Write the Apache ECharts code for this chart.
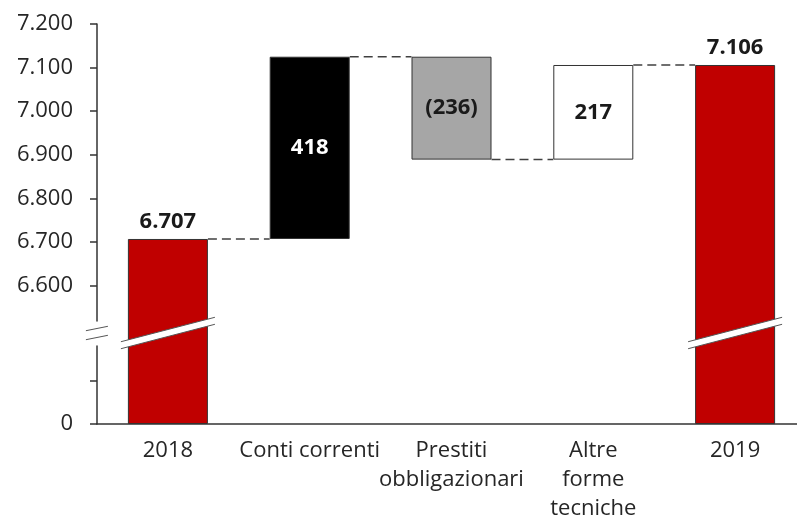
<!DOCTYPE html>
<html>
<head>
<meta charset="utf-8">
<script src="https://cdn.jsdelivr.net/npm/echarts@6/dist/echarts.min.js"></script>
<style>
  html, body { margin: 0; padding: 0; background: #fff; }
  #chart { width: 797px; height: 518px; }
</style>
</head>
<body>
<div id="chart"></div>
<script>
// dati (milioni) - ponte 2018 -> 2019
var categories = ['2018', 'Conti correnti', 'Prestiti\nobbligazionari', 'Altre\nforme\ntecniche', '2019'];
var startValue = 6707;
var changes = [418, -236, 217];
var endValue = 7106;
var barColors = ['#C00000', '#000000', '#A6A6A6', '#FFFFFF', '#C00000'];
var yTickValues = [0, 100, 6600, 6700, 6800, 6900, 7000, 7100, 7200];
var yLabelValues = [0, 6600, 6700, 6800, 6900, 7000, 7100, 7200];
var breakStart = 180, breakEnd = 6520;

function fmt(v) {
  var a = Math.abs(v);
  var s = a >= 1000 ? Math.floor(a / 1000) + '.' + String(a % 1000).padStart(3, '0') : String(a);
  return v < 0 ? '(' + s + ')' : s;
}

// costruzione waterfall
var base = [0], heights = [startValue], levels = [startValue];
var cur = startValue;
changes.forEach(function (c) {
  var next = cur + c;
  base.push(Math.min(cur, next));
  heights.push(Math.abs(c));
  cur = next;
  levels.push(cur);
});
base.push(0);
heights.push(endValue);

var visData = heights.map(function (h, i) {
  var isTotal = (i === 0 || i === heights.length - 1);
  var labelVal = isTotal ? h : changes[i - 1];
  return {
    value: h,
    itemStyle: { color: barColors[i], borderColor: '#333', borderWidth: 1 },
    label: {
      show: true,
      position: isTotal ? 'top' : 'inside',
      distance: 6,
      color: i === 1 ? '#fff' : '#1a1a1a',
      fontWeight: 'bold',
      fontSize: 22,
      fontFamily: 'Open Sans',
      formatter: fmt(labelVal)
    }
  };
});

// connettori tratteggiati
var connData = levels.map(function (v, i) { return [i, v]; });

var chart = echarts.init(document.getElementById('chart'));
var BAR_W = 80;

var option = {
  animation: false,
  grid: { left: 97, right: -9, top: 24, bottom: 94, outerBoundsMode: 'none', containLabel: false },
  xAxis: {
    type: 'category',
    data: categories,
    axisLine: { lineStyle: { color: '#333', width: 1.5 } },
    axisTick: { show: false },
    axisLabel: {
      color: '#262626', fontSize: 22, fontFamily: 'Open Sans',
      lineHeight: 29, margin: 12, interval: 0
    }
  },
  yAxis: {
    type: 'value',
    min: 0,
    max: 7200,
    breaks: [{ start: breakStart, end: breakEnd, gap: '6.25%' }],
    breakArea: { show: false },
    axisLine: { show: true, lineStyle: { color: '#333', width: 1.5 } },
    axisTick: { show: true, length: 7, customValues: yTickValues, lineStyle: { color: '#333', width: 1.5 } },
    splitLine: { show: false },
    axisLabel: {
      customValues: yLabelValues,
      color: '#262626', fontSize: 22, fontFamily: 'Open Sans', margin: 24,
      formatter: function (v) { return fmt(v); }
    }
  },
  series: [
    {
      type: 'bar',
      stack: 'wf',
      barWidth: BAR_W,
      silent: true,
      itemStyle: { color: 'transparent' },
      data: base
    },
    {
      type: 'bar',
      stack: 'wf',
      barWidth: BAR_W,
      data: visData
    },
    {
      type: 'custom',
      data: connData,
      z: 1,
      renderItem: function (params, api) {
        var i = api.value(0), v = api.value(1);
        var p1 = api.coord([i, v]);
        var p2 = api.coord([i + 1, v]);
        return {
          type: 'line',
          shape: { x1: p1[0] + BAR_W / 2, y1: p1[1], x2: p2[0] - BAR_W / 2, y2: p2[1] },
          style: { stroke: '#404040', lineWidth: 1.5, lineDash: [9, 5] }
        };
      }
    }
  ]
};
chart.setOption(option);

// segni di interruzione asse
function breakMarks() {
  var yLo = chart.convertToPixel({ yAxisIndex: 0 }, breakStart);
  var yHi = chart.convertToPixel({ yAxisIndex: 0 }, breakEnd);
  var yc = (yLo + yHi) / 2;
  var els = [];
  function slantBand(cx, half, slope, h) {
    var x1 = cx - half, x2 = cx + half;
    var yl = yc + slope * half, yr = yc - slope * half;
    els.push({
      type: 'polygon', z: 100,
      shape: { points: [[x1, yl - h], [x2, yr - h], [x2, yr + h], [x1, yl + h]] },
      style: { fill: '#fff' }
    });
    els.push({ type: 'line', z: 101, shape: { x1: x1, y1: yl - h, x2: x2, y2: yr - h }, style: { stroke: '#555', lineWidth: 1 } });
    els.push({ type: 'line', z: 101, shape: { x1: x1, y1: yl + h, x2: x2, y2: yr + h }, style: { stroke: '#555', lineWidth: 1 } });
  }
  [0, categories.length - 1].forEach(function (i) {
    var cx = chart.convertToPixel({ xAxisIndex: 0 }, i);
    slantBand(cx, BAR_W / 2 + 7, 0.26, 3.5);
  });
  var ax = chart.convertToPixel({ xAxisIndex: 0 }, 0) - 71;
  slantBand(ax, 11, 0.2, 4.5);
  chart.setOption({ graphic: els });
}
breakMarks();
</script>
</body>
</html>
